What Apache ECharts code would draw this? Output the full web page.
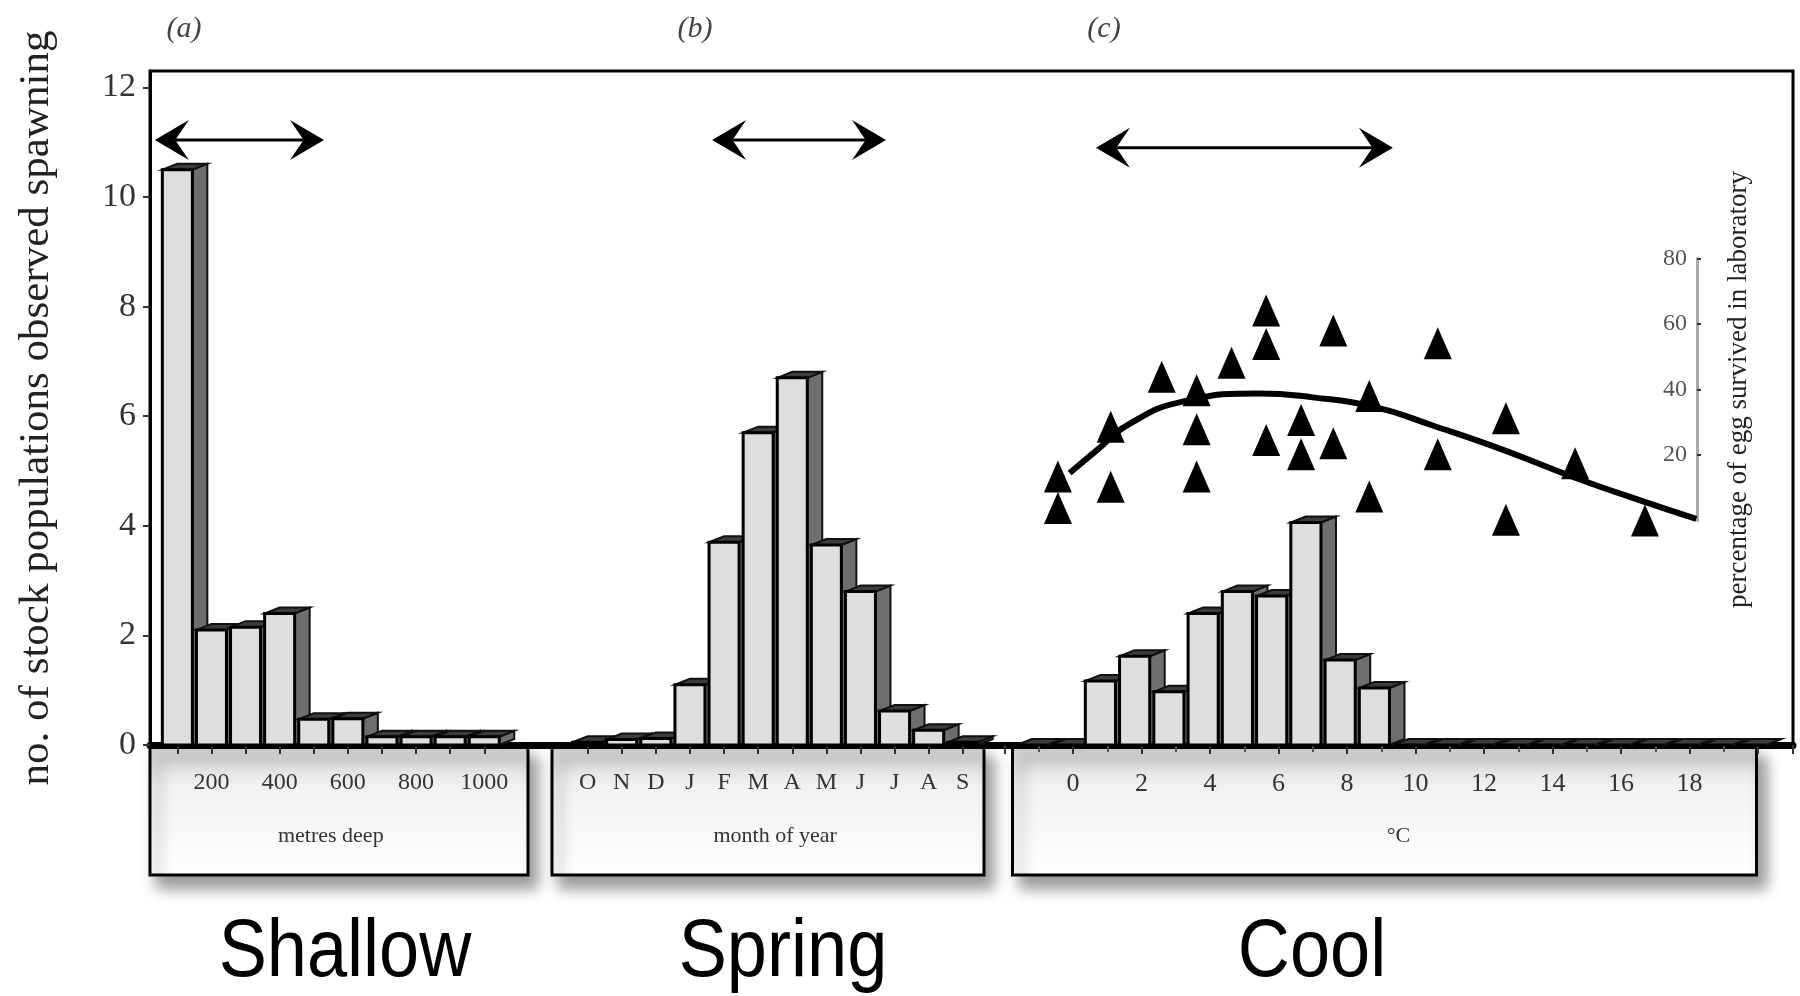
<!DOCTYPE html>
<html><head><meta charset="utf-8">
<script src="https://cdn.jsdelivr.net/npm/echarts@6/dist/echarts.min.js"></script>
<style>html,body{margin:0;padding:0;background:#fff}#c{width:1800px;height:996px}</style>
</head><body><div id="c"></div>
<script>
// ---- data ----
const depthCats = ['100','200','300','400','500','600','700','800','900','1000'];
const depthVals = [10.5, 2.1, 2.15, 2.4, 0.47, 0.48, 0.15, 0.15, 0.15, 0.15];
const monthCats = ['O','N','D','J','F','M','A','M','J','J','A','S'];
const monthVals = [0.05, 0.1, 0.12, 1.1, 3.7, 5.7, 6.7, 3.65, 2.8, 0.62, 0.27, 0.05];
const tempBins = [-1.2, -0.2, 0.8, 1.8, 2.8, 3.8, 4.8, 5.8, 6.8, 7.8, 8.8, 9.8, 10.8, 11.8, 12.8, 13.8, 14.8, 15.8, 16.8, 17.8, 18.8, 19.8];
const tempVals = [0, 0, 1.17, 1.62, 0.97, 2.4, 2.8, 2.72, 4.06, 1.55, 1.04, 0, 0, 0, 0, 0, 0, 0, 0, 0, 0, 0];
const survX = [-0.44, -0.44, 1.1, 1.1, 2.59, 3.61, 3.61, 3.61, 4.63, 5.64, 5.64, 5.64, 6.66, 6.66, 7.6, 7.6, 8.65, 8.65, 10.65, 10.65, 12.64, 12.64, 14.66, 16.7];
const survY = [13.4, 3.8, 28.6, 10.3, 43.9, 39.8, 27.9, 13.4, 48.2, 64.1, 53.9, 24.6, 30.7, 20.2, 58.0, 23.6, 38.0, 7.3, 54.1, 20.2, 31.2, 0.2, 17.5, 0];
const fitX = [-0.1, 0.7, 1.6, 3.2, 5.4, 7.0, 8.8, 10.5, 12.5, 14.6, 16.8, 18.2];
const fitY = [14.5, 21.5, 29.2, 36.3, 38.8, 37.6, 34.7, 29.0, 21.8, 13.3, 5.3, 0.5];
const yTicks = [0, 2, 4, 6, 8, 10, 12];
const tempTickLabels = [0, 2, 4, 6, 8, 10, 12, 14, 16, 18];
const survTicks = [20, 40, 60, 80];
// arrow annotations: [from, to, level] in each panel's data units
const arrowA = [-0.66, 4.3, 11.04];
const arrowB = [3.65, 8.75, 11.04];
const arrowC = [0.67, 9.34, 10.9];

// ---- chart ----
const serif = "'Liberation Serif','DejaVu Serif',serif";
const chart = echarts.init(document.getElementById('c'));
const GT = 71, GH = 674, YMAX = 12.3;

function bar3d(params, api) {
  const xv = api.value(0), v = api.value(1);
  const p0 = api.coord([xv, 0]);
  const p1 = api.coord([xv, v]);
  const bw = api.size([1, 0])[0] * 0.88;
  const dx = 15, dy = 6;
  const xl = p0[0] - bw / 2, xr = p0[0] + bw / 2, yb = p0[1], yt = p1[1];
  return {
    type: 'group',
    children: [
      {type: 'polygon', shape: {points: [[xr, yt], [xr + dx, yt - dy], [xr + dx, yb - dy], [xr, yb]]},
       style: {fill: '#6e6e6e', stroke: '#111', lineWidth: 2}},
      {type: 'polygon', shape: {points: [[xl, yt], [xl + dx, yt - dy], [xr + dx, yt - dy], [xr, yt]]},
       style: {fill: '#3c3c3c', stroke: '#111', lineWidth: 2}},
      {type: 'rect', shape: {x: xl, y: yt, width: bw, height: yb - yt},
       style: {fill: '#dedede', stroke: '#000', lineWidth: 3}}
    ]
  };
}

const hiddenY = (gi) => ({gridIndex: gi, type: 'value', min: 0, max: YMAX, show: false, splitLine: {show: false}});
const catLabel = {fontFamily: serif, fontSize: 24, color: '#333', margin: 26};
const nameStyle = {fontFamily: serif, fontSize: 22, color: '#333'};
const tickStyle = {show: true, length: 9, lineStyle: {color: '#333', width: 2}};

const option = {
  animation: false,
  backgroundColor: '#fff',
  grid: [
    {left: 150, top: GT, width: 1643, height: GH, show: true, borderColor: '#000', borderWidth: 3, backgroundColor: 'transparent'},
    {left: 160.3, top: GT, width: 341, height: GH},
    {left: 570.6, top: GT, width: 409.2, height: GH},
    {left: 1004.5, top: GT, width: 787.75, height: GH},
    {left: 1004.5, top: 258.5, width: 787.75, height: 262}
  ],
  xAxis: [
    {gridIndex: 0, type: 'value', min: 0, max: 1, axisLine: {show: true, onZero: false, lineStyle: {color: '#000', width: 7}},
     axisTick: {show: false}, axisLabel: {show: false}, splitLine: {show: false}},
    {gridIndex: 1, type: 'category', data: depthCats, axisLine: {show: false},
     axisTick: Object.assign({alignWithLabel: true, interval: 0}, tickStyle),
     axisLabel: Object.assign({interval: (i) => i % 2 === 1}, catLabel),
     name: 'metres deep', nameLocation: 'middle', nameGap: 80, nameTextStyle: nameStyle, splitLine: {show: false}},
    {gridIndex: 2, type: 'category', data: monthCats, axisLine: {show: false},
     axisTick: Object.assign({alignWithLabel: true, interval: 0}, tickStyle),
     axisLabel: Object.assign({interval: 0}, catLabel),
     name: 'month of year', nameLocation: 'middle', nameGap: 80, nameTextStyle: nameStyle, splitLine: {show: false}},
    {gridIndex: 3, type: 'value', min: -2, max: 21, interval: 2, axisLine: {show: false, onZero: false},
     axisTick: tickStyle, minorTick: {show: true, splitNumber: 2, length: 7, lineStyle: {color: '#555', width: 2}},
     axisLabel: Object.assign({customValues: tempTickLabels}, catLabel, {fontSize: 26}),
     name: '°C', nameLocation: 'middle', nameGap: 80, nameTextStyle: nameStyle, splitLine: {show: false}},
    {gridIndex: 4, type: 'value', min: -2, max: 21, show: false, splitLine: {show: false}}
  ],
  yAxis: [
    {gridIndex: 0, type: 'value', min: 0, max: YMAX,
     axisLine: {show: true, onZero: false, lineStyle: {color: '#000', width: 3}},
     axisTick: {show: true, customValues: yTicks, length: 7, lineStyle: {color: '#333', width: 2}},
     axisLabel: {customValues: yTicks, fontFamily: serif, fontSize: 34, color: '#333', margin: 14},
     splitLine: {show: false},
     name: 'no. of stock populations observed spawning', nameLocation: 'middle', nameGap: 92,
     nameTextStyle: {fontFamily: serif, fontSize: 43, color: '#222'}},
    hiddenY(1), hiddenY(2), hiddenY(3),
    {gridIndex: 4, type: 'value', position: 'right', offset: -95.25, min: 0, max: 80,
     axisLine: {show: true, onZero: false, lineStyle: {color: '#aaa', width: 3}},
     axisTick: {show: true, customValues: survTicks, length: 4, lineStyle: {color: '#333', width: 2}},
     axisLabel: {customValues: survTicks, inside: true, margin: 10, fontFamily: serif, fontSize: 24, color: '#555'},
     splitLine: {show: false},
     name: 'percentage of egg survived in laboratory', nameLocation: 'middle', nameRotate: 90, nameGap: 28,
     nameTextStyle: {fontFamily: serif, fontSize: 27, color: '#222'}}
  ],
  series: [
    {type: 'custom', xAxisIndex: 1, yAxisIndex: 1, renderItem: bar3d, encode: {x: 0, y: 1}, z: 2,
     data: depthVals.map((v, i) => [i, v])},
    {type: 'custom', xAxisIndex: 2, yAxisIndex: 2, renderItem: bar3d, encode: {x: 0, y: 1}, z: 2,
     data: monthVals.map((v, i) => [i, v])},
    {type: 'custom', xAxisIndex: 3, yAxisIndex: 3, renderItem: bar3d, encode: {x: 0, y: 1}, z: 2,
     data: tempBins.map((t, i) => [t, tempVals[i]])},
    {type: 'line', xAxisIndex: 4, yAxisIndex: 4, smooth: 0.5, showSymbol: false, symbol: 'none', z: 4,
     lineStyle: {color: '#000', width: 6}, data: fitX.map((x, i) => [x, fitY[i]])},
    {type: 'scatter', xAxisIndex: 4, yAxisIndex: 4, symbol: 'triangle', symbolSize: [28, 32], z: 5, clip: false,
     itemStyle: {color: '#000', opacity: 1}, data: survX.map((x, i) => [x, survY[i]])}
  ]
};
chart.setOption(option);

// ---- decorations (boxes, labels, arrows) positioned after layout ----
function box(x, w) {
  return {
    type: 'rect', z: -10,
    shape: {x: x, y: 746, width: w, height: 129},
    style: {
      fill: new echarts.graphic.LinearGradient(0, 0, 0, 1, [
        {offset: 0, color: '#cfcfcf'}, {offset: 0.32, color: '#f2f2f2'}, {offset: 1, color: '#ffffff'}]),
      stroke: '#000', lineWidth: 3,
      shadowBlur: 14, shadowOffsetX: 8, shadowOffsetY: 12, shadowColor: 'rgba(0,0,0,0.4)'
    }
  };
}
function label(text, x, y) {
  return {type: 'text', x: x, y: y, z: 10,
    style: {text: text, fontFamily: serif, fontSize: 30, fontStyle: 'italic', fill: '#444',
      textAlign: 'center', textVerticalAlign: 'middle'}};
}
function bigWord(text, x) {
  return {type: 'text', x: x, y: 953, scaleX: 0.88, z: 10,
    style: {text: text, fontFamily: "'Liberation Sans','Arimo',sans-serif", fontSize: 82, fill: '#000',
      textAlign: 'center', textVerticalAlign: 'middle'}};
}
function catX(ax, f) {
  const a = chart.convertToPixel({xAxisIndex: ax}, 0);
  const b = chart.convertToPixel({xAxisIndex: ax}, 1);
  return a + (b - a) * f;
}
function valX(ax, v) { return chart.convertToPixel({xAxisIndex: ax}, v); }
function yPx(v) { return chart.convertToPixel({yAxisIndex: 0}, v); }
function arrow(x1, x2, y) {
  const L = 34, H = 20, n = 0.6;
  return {
    type: 'group', z: 10,
    children: [
      {type: 'line', shape: {x1: x1 + L * n, y1: y, x2: x2 - L * n, y2: y}, style: {stroke: '#000', lineWidth: 3}},
      {type: 'polygon', shape: {points: [[x1, y], [x1 + L, y - H], [x1 + L * n, y], [x1 + L, y + H]]}, style: {fill: '#000'}},
      {type: 'polygon', shape: {points: [[x2, y], [x2 - L, y - H], [x2 - L * n, y], [x2 - L, y + H]]}, style: {fill: '#000'}}
    ]
  };
}
chart.setOption({
  graphic: {elements: [
    box(150, 378), box(552, 432), box(1012.5, 744),
    label('(a)', 184, 29), label('(b)', 695, 29), label('(c)', 1104, 29),
    bigWord('Shallow', 345), bigWord('Spring', 783), bigWord('Cool', 1312),
    arrow(catX(1, arrowA[0]), catX(1, arrowA[1]), yPx(arrowA[2])),
    arrow(catX(2, arrowB[0]), catX(2, arrowB[1]), yPx(arrowB[2])),
    arrow(valX(3, arrowC[0]), valX(3, arrowC[1]), yPx(arrowC[2]))
  ]}
});
</script>
</body></html>
